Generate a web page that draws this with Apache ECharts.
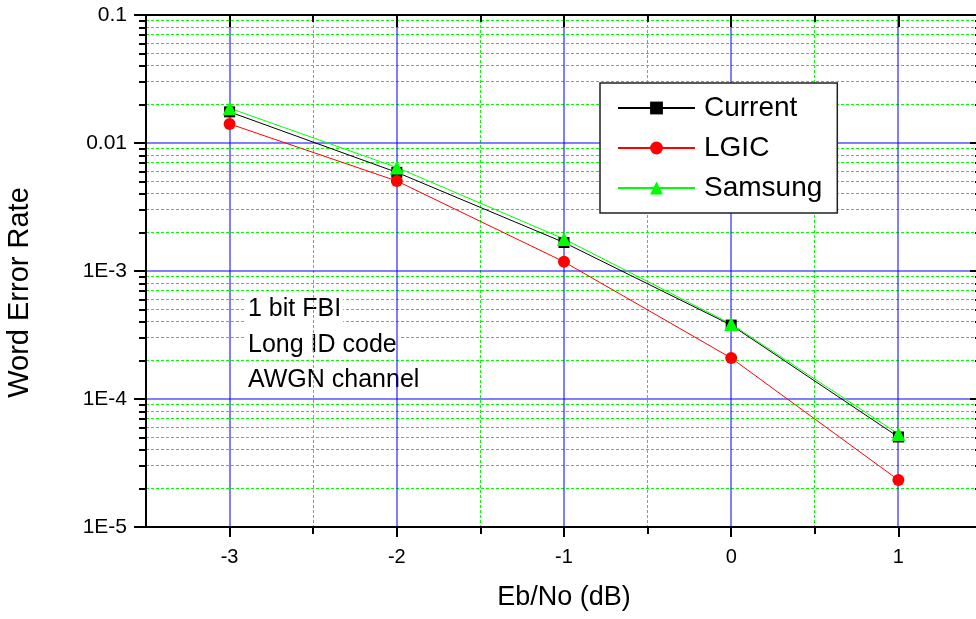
<!DOCTYPE html>
<html><head><meta charset="utf-8">
<script src="https://cdn.jsdelivr.net/npm/echarts@6/dist/echarts.min.js"></script>
<style>html,body{margin:0;padding:0;background:#fff}#c{width:976px;height:619px}</style>
</head><body><div id="c"></div>
<script>
const ebno = [-3, -2, -1, 0, 1];
const current = [0.0175, 0.0059, 0.00167, 0.000378, 0.0000505];
const lgic = [0.0141, 0.00505, 0.00118, 0.000209, 0.0000233];
const samsung = [0.0187, 0.00644, 0.00178, 0.000385, 0.0000533];
const xMajorTicks = [-3, -2, -1, 0, 1];
const xMinorTicks = [-2.5, -1.5, -0.5, 0.5];
const yMajorTicks = [0.1, 0.01, 0.001, 0.0001, 0.00001];
const yTickLabels = ['0.1', '0.01', '1E-3', '1E-4', '1E-5'];
const yMinorTicks = [
  2e-5, 3e-5, 4e-5, 5e-5, 6e-5, 7e-5, 8e-5, 9e-5,
  2e-4, 3e-4, 4e-4, 5e-4, 6e-4, 7e-4, 8e-4, 9e-4,
  2e-3, 3e-3, 4e-3, 5e-3, 6e-3, 7e-3, 8e-3, 9e-3,
  2e-2, 3e-2, 4e-2, 5e-2, 6e-2, 7e-2, 8e-2, 9e-2
];
const seriesNames = ['Current', 'LGIC', 'Samsung'];
const notes = ['1 bit FBI', 'Long ID code', 'AWGN channel'];
const xTitle = 'Eb/No (dB)';
const yTitle = 'Word Error Rate';

const X_MIN = -3.5, X_MAX = 1.5, Y_MIN = 1e-5, Y_MAX = 0.1;
const FONT = 'Liberation Sans, Arial, sans-serif';
const AXIS_LINE = { show: true, onZero: false, lineStyle: { color: '#000', width: 2 } };
const NO_LINE = { show: false, onZero: false };
const GREEN = '#00ff00', BLUE = '#0000ff';

function yLabel(v) {
  const i = yMajorTicks.findIndex(t => Math.abs(Math.log10(t) - Math.log10(v)) < 1e-6);
  return i >= 0 ? yTickLabels[i] : '';
}
function crisp(v) { return Math.round(v - 0.5) + 0.5; }
function soft(v) { return Math.round(v); }

function gridLineSeries(values, vertical, color, dash, z, snap) {
  return {
    type: 'custom', xAxisIndex: 0, yAxisIndex: 0, z: z, silent: true, clip: false,
    data: values.map(v => vertical ? [v, Y_MAX] : [X_MIN, v]),
    renderItem: function (params, api) {
      let p1, p2;
      if (vertical) {
        const x = api.value(0);
        p1 = api.coord([x, Y_MAX]); p2 = api.coord([x, Y_MIN]);
        p1[0] = p2[0] = snap(p1[0]);
      } else {
        const y = api.value(1);
        p1 = api.coord([X_MIN, y]); p2 = api.coord([X_MAX, y]);
        p1[1] = p2[1] = snap(p1[1]);
      }
      return {
        type: 'line',
        shape: { x1: p1[0], y1: p1[1], x2: p2[0], y2: p2[1] },
        style: { stroke: color, lineWidth: 1, lineDash: dash, fill: null }
      };
    }
  };
}

const xBase = { type: 'value', min: X_MIN, max: X_MAX, gridIndex: 0, splitLine: { show: false }, z: 4 };
const yBase = { type: 'log', logBase: 10, min: Y_MIN, max: Y_MAX, gridIndex: 0, splitLine: { show: false }, z: 4 };
const tickStyle = { color: '#000', width: 2 };

const chart = echarts.init(document.getElementById('c'), null, { renderer: 'canvas' });
chart.setOption({
  backgroundColor: '#fff',
  animation: false,
  textStyle: { fontFamily: FONT },
  grid: { left: 146, top: 15, width: 836, height: 512, containLabel: false, outerBoundsMode: 'none' },
  xAxis: [
    Object.assign({}, xBase, {
      position: 'bottom',
      axisLine: AXIS_LINE,
      axisTick: { show: true, customValues: xMajorTicks, length: 10, lineStyle: tickStyle },
      axisLabel: { show: true, customValues: xMajorTicks, fontSize: 20, margin: 20, color: '#000', fontFamily: FONT },
      name: xTitle, nameLocation: 'middle', nameGap: 57,
      nameTextStyle: { fontSize: 27, color: '#000', fontFamily: FONT }
    }),
    Object.assign({}, xBase, {
      position: 'bottom',
      axisLine: NO_LINE,
      axisTick: { show: true, customValues: xMinorTicks, length: 7, lineStyle: tickStyle },
      axisLabel: { show: false }
    }),
    Object.assign({}, xBase, {
      position: 'top',
      axisLine: AXIS_LINE,
      axisTick: { show: true, inside: true, customValues: xMajorTicks, length: 12, lineStyle: tickStyle },
      axisLabel: { show: false }
    }),
    Object.assign({}, xBase, {
      position: 'top',
      axisLine: NO_LINE,
      axisTick: { show: true, inside: true, customValues: xMinorTicks, length: 7, lineStyle: tickStyle },
      axisLabel: { show: false }
    })
  ],
  yAxis: [
    Object.assign({}, yBase, {
      position: 'left',
      axisLine: AXIS_LINE,
      axisTick: { show: true, customValues: yMajorTicks, length: 12, lineStyle: tickStyle },
      axisLabel: { show: true, customValues: yMajorTicks, formatter: yLabel, fontSize: 21, margin: 19, color: '#000', fontFamily: FONT },
      name: yTitle, nameLocation: 'middle', nameRotate: 90, nameGap: 112,
      nameTextStyle: { fontSize: 29, color: '#000', fontFamily: FONT, padding: [0, 43, 0, 0] }
    }),
    Object.assign({}, yBase, {
      position: 'left',
      axisLine: NO_LINE,
      axisTick: { show: true, customValues: yMinorTicks, length: 7, lineStyle: tickStyle },
      axisLabel: { show: false }
    }),
    Object.assign({}, yBase, {
      position: 'right',
      axisLine: AXIS_LINE,
      axisTick: { show: true, inside: true, customValues: yMajorTicks, length: 12, lineStyle: tickStyle },
      axisLabel: { show: false }
    }),
    Object.assign({}, yBase, {
      position: 'right',
      axisLine: NO_LINE,
      axisTick: { show: true, inside: true, customValues: yMinorTicks, length: 7, lineStyle: tickStyle },
      axisLabel: { show: false }
    })
  ],
  legend: {
    show: true, orient: 'vertical', left: 600, top: 83,
    padding: [11, 15, 11, 17],
    itemWidth: 77, itemHeight: 16, itemGap: 12,
    borderColor: '#222', borderWidth: 1.5, backgroundColor: '#fff',
    textStyle: { fontSize: 28, color: '#000', fontFamily: FONT, padding: [0, 0, 0, 4] },
    data: seriesNames, z: 10
  },
  graphic: {
    elements: notes.map((t, i) => ({
      type: 'text', left: 246, top: 296 + i * 35.5, z: 2,
      style: { text: t, font: '25px ' + FONT, fill: '#000', backgroundColor: '#fff', padding: [1, 2] }
    }))
  },
  series: [
    gridLineSeries(yMinorTicks, false, GREEN, [3, 2], 1, crisp),
    gridLineSeries(xMinorTicks, true, GREEN, [3, 2], 3, crisp),
    gridLineSeries(yMajorTicks.slice(1, -1), false, BLUE, null, 3, soft),
    gridLineSeries(xMajorTicks, true, BLUE, null, 3, soft)
  ].concat([
    { name: seriesNames[0], data: ebno.map((x, i) => [x, current[i]]), color: '#000000', symbol: 'rect', symbolSize: 11 },
    { name: seriesNames[1], data: ebno.map((x, i) => [x, lgic[i]]), color: '#ff0000', symbol: 'circle', symbolSize: 12 },
    { name: seriesNames[2], data: ebno.map((x, i) => [x, samsung[i]]), color: '#00ff00', symbol: 'triangle', symbolSize: 14 }
  ].map(s => Object.assign({
    type: 'line', xAxisIndex: 0, yAxisIndex: 0, z: 5, smooth: false,
    showSymbol: true, lineStyle: { width: 1 }, itemStyle: { opacity: 1 }
  }, s)))
});
</script></body></html>
